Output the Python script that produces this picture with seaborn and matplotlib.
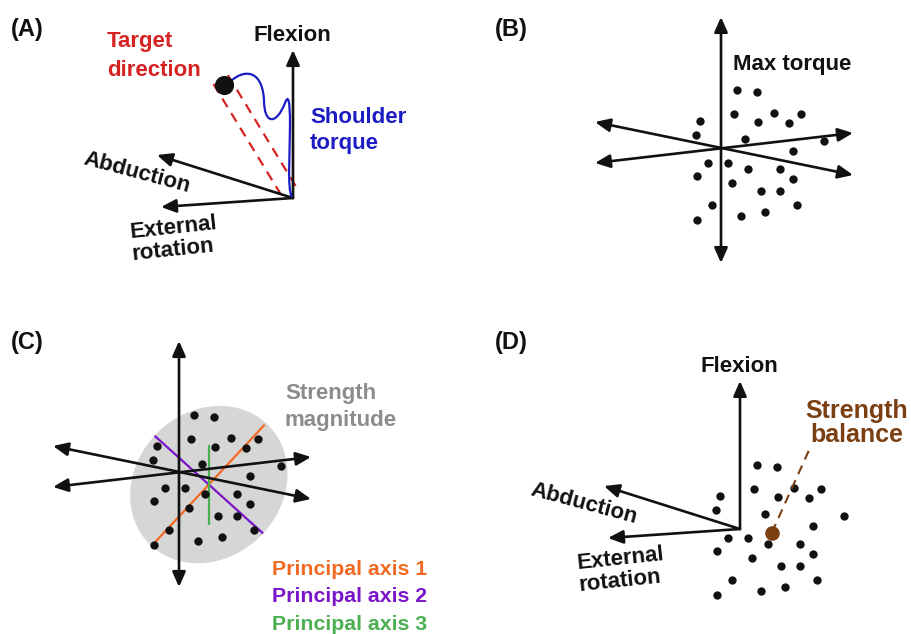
import numpy as np
import matplotlib
matplotlib.use("Agg")
import matplotlib.pyplot as plt
from matplotlib.patches import Ellipse, FancyArrowPatch, PathPatch
from matplotlib.path import Path
import seaborn as sns

# ---------------------------------------------------------------------------
# Data
# ---------------------------------------------------------------------------
# Maximum-torque samples projected on the drawing plane
# (offsets from the cloud centre, screen units, y pointing down)
torque_dx = [16, 36, 13, 37, 53, 68, 80, -21, -25, 24, 103, 72, -13,
             7, 27, 59, 72, -24, 11, 40, 59, -9, 76, -24, 20, 44]
torque_dy = [-57, -55, -33, -25, -34, -24, -33, -26, -12, -8, -6, 4, 16,
             16, 22, 22, 32, 29, 36, 44, 44, 58, 58, 73, 69, 65]

# Shoulder torque trajectory towards the target (cubic Bezier control points,
# relative to the axes origin)
traj_x = [-62, -50, -31, -29, -29, -17, -8, -5, -3, -3, -3, -6, -1]
traj_y = [-117, -128, -130, -98, -74, -72, -95, -103, -100, -73, -48, -8, -1]

# Target torque (relative to the axes origin)
target_x, target_y = -69, -113

# Principal axes of the strength ellipsoid
pc_labels = ["Principal axis 1", "Principal axis 2", "Principal axis 3"]
pc_angle_deg = [47, -42, 90]
pc_half_len = [82, 73, 40]
pc_colors = ["#f26a22", "#7a14c8", "#4caf50"]

# Joint torque axes (A, D): tip offsets from origin
axis_names = ["Flexion", "Abduction", "External\nrotation"]
axis_tip_dx = [0, -136, -132]
axis_tip_dy = [-148, -43, 9]

# ---------------------------------------------------------------------------
# Styling
# ---------------------------------------------------------------------------
sns.set_theme(style="white")
plt.rcParams["font.family"] = ["Liberation Sans", "DejaVu Sans"]
plt.rcParams["font.weight"] = "bold"

BLACK = "#111111"
RED = "#d62222"
BLUE = "#1c1cc4"
GRAY_TXT = "#8c8c8c"
GRAY_FILL = "#d6d6d6"
BROWN = "#7b3f12"
LW = 1.9
FS = 16

fig = plt.figure(figsize=(9.11, 6.34), dpi=100)
ax = fig.add_axes([0, 0, 1, 1])
ax.set_xlim(0, 911)
ax.set_ylim(634, 0)
ax.axis("off")


def arrow(p0, p1, both=False, color=BLACK, lw=LW):
    style = "<|-|>" if both else "-|>"
    style += ",head_length=0.45,head_width=0.2"
    ax.add_patch(FancyArrowPatch(p0, p1, arrowstyle=style, mutation_scale=20,
                                 lw=lw, color=color, shrinkA=0, shrinkB=0,
                                 zorder=3))


def txt(x, y, s, color=BLACK, size=FS, ha="left", va="baseline", rot=0):
    ax.text(x, y, s, color=color, fontsize=size, ha=ha, va=va,
            rotation=rot, rotation_mode="anchor", fontweight="bold", zorder=6)


def dots(cx, cy):
    sns.scatterplot(x=np.array(torque_dx) + cx, y=np.array(torque_dy) + cy,
                    ax=ax, color=BLACK, s=36, linewidth=0, zorder=4,
                    legend=False)


def joint_axes(ox, oy):
    for dx, dy in zip(axis_tip_dx, axis_tip_dy):
        arrow((ox, oy), (ox + dx, oy + dy))
    txt(ox - 1, oy - 157, "Flexion", ha="center")
    txt(ox - 156, oy - 25, "Abduction", ha="center", va="center", rot=-15)
    txt(ox - 120, oy + 30, "External", ha="center", va="center", rot=6)
    txt(ox - 120, oy + 52, "rotation", ha="center", va="center", rot=6)


def star_axes(cx, cy):
    arrow((cx, cy + 115), (cx, cy - 131), both=True)
    arrow((cx - 126, cy - 26), (cx + 132, cy + 27), both=True)
    arrow((cx - 126, cy + 15), (cx + 132, cy - 15), both=True)


# ---------------------------------------------------------------------------
# (A) target direction and shoulder torque
# ---------------------------------------------------------------------------
oA = (293, 198)
txt(11, 36, "(A)", size=17)
joint_axes(*oA)

# dashed target cone
tv = np.array([target_x, target_y], float)
u = tv / np.hypot(*tv)
n = np.array([-u[1], u[0]])
for side in (-8.5, 8.5):
    p0 = np.array(oA) + 9 * u + side * n
    p1 = np.array(oA) + 143 * u + side * n
    ax.plot([p0[0], p1[0]], [p0[1], p1[1]], color=RED, lw=1.6,
            dashes=(4.5, 3.2), zorder=2)

verts = np.column_stack([np.array(traj_x) + oA[0], np.array(traj_y) + oA[1]])
codes = [Path.MOVETO] + [Path.CURVE4] * (len(verts) - 1)
ax.add_patch(PathPatch(Path(verts, codes), fill=False, edgecolor=BLUE,
                       lw=1.6, zorder=3))
sns.scatterplot(x=[oA[0] + target_x], y=[oA[1] + target_y], ax=ax,
                color=BLACK, s=190, linewidth=0, zorder=5, legend=False)

txt(107, 47.5, "Target", color=RED)
txt(107, 76, "direction", color=RED)
txt(310, 123, "Shoulder", color=BLUE)
txt(310, 149, "torque", color=BLUE)

# ---------------------------------------------------------------------------
# (B) maximum torque samples
# ---------------------------------------------------------------------------
cB = (721, 148)
txt(495, 36, "(B)", size=17)
star_axes(*cB)
dots(cB[0], cB[1] - 1)
txt(733, 70, "Max torque")

# ---------------------------------------------------------------------------
# (C) strength magnitude and principal axes
# ---------------------------------------------------------------------------
cC = (179, 472)
cloudC = (178, 472)
centroid_dx, centroid_dy = np.mean(torque_dx), np.mean(torque_dy)
mC = (cloudC[0] + centroid_dx, cloudC[1] + centroid_dy + 2)
ax.add_patch(Ellipse(mC, width=168, height=146, angle=-45,
                     facecolor=GRAY_FILL, edgecolor="none", zorder=1))
txt(11, 349, "(C)", size=17)
star_axes(*cC)
for ang, hl, col in zip(pc_angle_deg, pc_half_len, pc_colors):
    d = np.array([np.cos(np.radians(ang)), -np.sin(np.radians(ang))])
    p0 = np.array(mC) - hl * d
    p1 = np.array(mC) + hl * d
    ax.plot([p0[0], p1[0]], [p0[1], p1[1]], color=col, lw=1.6, zorder=2,
            solid_capstyle="butt")
dots(*cloudC)
txt(285, 399, "Strength", color=GRAY_TXT)
txt(285, 426, "magnitude", color=GRAY_TXT)
for i, (lab, col) in enumerate(zip(pc_labels, pc_colors)):
    txt(272, 575 + 27.5 * i, lab, color=col, size=15.3)

# ---------------------------------------------------------------------------
# (D) strength balance
# ---------------------------------------------------------------------------
oD = (740, 529)
cloudD = (741, 522)
txt(495, 349, "(D)", size=17)
joint_axes(*oD)
dots(*cloudD)
bal = (cloudD[0] + centroid_dx, cloudD[1] + centroid_dy)
ax.plot([bal[0], 810], [bal[1], 448], color=BROWN, lw=1.5,
        dashes=(4.5, 3.2), zorder=5)
sns.scatterplot(x=[bal[0]], y=[bal[1]], ax=ax, color=BROWN, s=110,
                linewidth=0, zorder=6, legend=False)
txt(857, 418, "Strength", color=BROWN, size=18, ha="center")
txt(857, 442, "balance", color=BROWN, size=18, ha="center")

fig.savefig("out.png", dpi=100)
